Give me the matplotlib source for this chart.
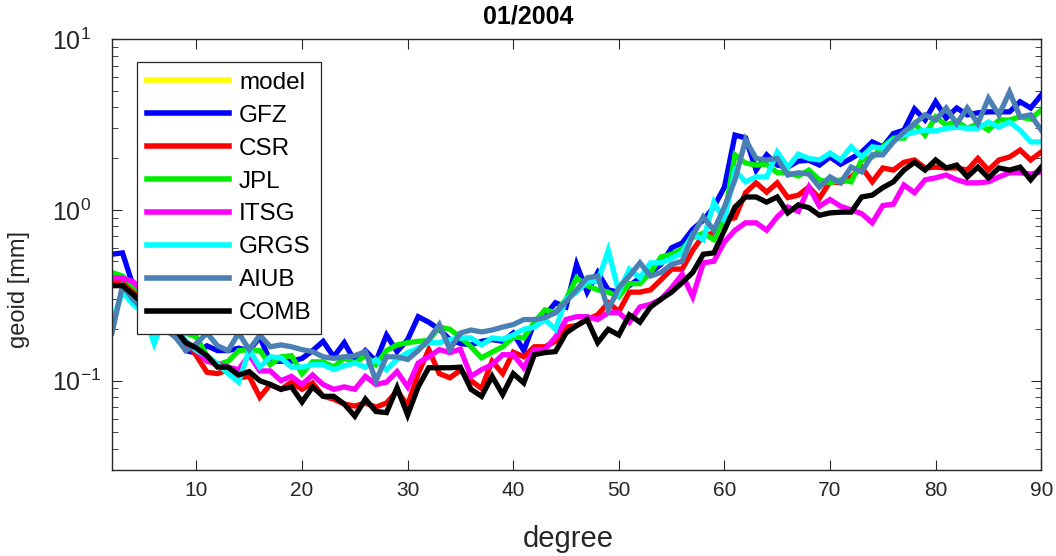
import matplotlib
matplotlib.use("Agg")
import matplotlib.pyplot as plt
import numpy as np
from matplotlib.ticker import LogLocator, FixedLocator

plt.rcParams['font.family'] = ['Liberation Sans', 'DejaVu Sans']
plt.rcParams['mathtext.fontset'] = 'custom'
plt.rcParams['mathtext.rm'] = 'Liberation Sans'

degree = list(range(2, 91))

model = []  # not visible in the reference

GFZ = [0.55, 0.56, 0.36, 0.30, 0.26, 0.22, 0.20, 0.15, 0.145, 0.16, 0.15,
       0.15, 0.155, 0.15, 0.18, 0.13, 0.13, 0.13, 0.135, 0.15, 0.17, 0.138, 0.167,
       0.13, 0.15, 0.13, 0.185, 0.148, 0.174, 0.237, 0.22, 0.2, 0.174, 0.165,
       0.162, 0.17, 0.174, 0.17, 0.19, 0.15, 0.22, 0.24, 0.286, 0.27, 0.48,
       0.33, 0.43, 0.34, 0.33, 0.36, 0.40, 0.43, 0.48, 0.6, 0.64, 0.77,
       0.87, 1.04, 1.36, 2.74, 2.64, 1.71, 2.1, 1.83, 1.78, 1.93,
       1.95, 1.83, 2.04, 1.85, 2.0, 2.18, 2.5, 2.34, 2.8, 2.93, 3.9,
       3.36, 4.3, 3.45, 3.95, 3.6, 3.7, 3.75, 3.75, 3.75, 4.3, 3.95, 4.7]

CSR = [0.38, 0.38, 0.34, 0.3, 0.26, 0.23, 0.2, 0.17, 0.14, 0.112, 0.11,
       0.116, 0.104, 0.106, 0.08, 0.095, 0.089, 0.098, 0.089, 0.097, 0.081, 0.078, 0.073,
       0.071, 0.074, 0.07, 0.074, 0.087, 0.072, 0.11, 0.152, 0.11, 0.104, 0.115,
       0.1, 0.09, 0.13, 0.11, 0.147, 0.138, 0.158, 0.158, 0.17, 0.206, 0.21,
       0.228, 0.243, 0.286, 0.254, 0.33, 0.33, 0.34, 0.39, 0.45, 0.45, 0.58,
       0.71, 0.73, 0.87, 0.9, 1.26, 1.44, 1.27, 1.44, 1.18, 1.22,
       1.36, 1.17, 1.46, 1.44, 1.56, 1.78, 1.46, 1.76, 1.71, 1.9, 1.96,
       1.76, 1.78, 1.76, 1.76, 1.71, 2.0, 1.71, 1.96, 2.04, 2.24, 1.96, 2.18]

JPL = [0.43, 0.41, 0.36, 0.32, 0.28, 0.25, 0.22, 0.19, 0.18, 0.14, 0.124,
       0.13, 0.15, 0.152, 0.15, 0.124, 0.138, 0.14, 0.11, 0.129, 0.129, 0.12, 0.136,
       0.127, 0.14, 0.124, 0.15, 0.162, 0.167, 0.17, 0.172, 0.206, 0.2, 0.18,
       0.158, 0.136, 0.147, 0.158, 0.18, 0.178, 0.22, 0.26, 0.25, 0.3, 0.4,
       0.36, 0.34, 0.33, 0.31, 0.37, 0.37, 0.43, 0.53, 0.55, 0.59, 0.69,
       0.73, 0.67, 0.91, 2.1, 1.88, 1.83, 1.85, 1.65, 1.65, 1.58,
       1.71, 1.5, 1.44, 1.5, 1.46, 1.96, 2.04, 2.34, 2.63, 2.63, 3.2,
       2.74, 3.5, 3.14, 3.3, 3.0, 3.2, 2.93, 3.36, 3.36, 3.5, 3.4, 3.84]

ITSG = [0.4, 0.4, 0.38, 0.33, 0.28, 0.24, 0.2, 0.17, 0.15, 0.13, 0.125,
        0.12, 0.116, 0.142, 0.114, 0.114, 0.1, 0.106, 0.095, 0.108, 0.095, 0.089, 0.092,
        0.089, 0.106, 0.095, 0.098, 0.113, 0.092, 0.127, 0.138, 0.152, 0.146, 0.153,
        0.106, 0.116, 0.124, 0.142, 0.142, 0.119, 0.152, 0.152, 0.18, 0.228, 0.237,
        0.237, 0.228, 0.25, 0.25, 0.22, 0.27, 0.28, 0.3, 0.35, 0.42, 0.31,
        0.49, 0.5, 0.65, 0.76, 0.84, 0.84, 0.76, 0.91, 1.04, 0.98,
        1.36, 1.05, 1.15, 1.05, 1.0, 0.95, 0.84, 1.06, 1.08, 1.4, 1.26,
        1.5, 1.54, 1.6, 1.5, 1.44, 1.44, 1.46, 1.56, 1.65, 1.65, 1.62, 1.67]

GRGS = [0.22, 0.33, 0.28, 0.25, 0.165, 0.24, 0.2, 0.17, 0.15, 0.14, 0.125,
        0.11, 0.098, 0.152, 0.12, 0.138, 0.136, 0.12, 0.12, 0.124, 0.124, 0.116, 0.122,
        0.127, 0.12, 0.133, 0.116, 0.133, 0.146, 0.155, 0.167, 0.167, 0.174, 0.178,
        0.178, 0.162, 0.178, 0.175, 0.185, 0.2, 0.206, 0.228, 0.2, 0.3, 0.33,
        0.38, 0.38, 0.58, 0.33, 0.45, 0.4, 0.49, 0.49, 0.52, 0.56, 0.72,
        0.67, 1.11, 0.87, 1.7, 1.46, 1.56, 1.56, 2.18, 1.78, 2.12,
        2.0, 1.96, 2.15, 1.96, 2.34, 2.04, 2.34, 2.3, 2.57, 2.74, 2.85,
        2.93, 2.9, 3.0, 3.05, 3.0, 3.0, 3.27, 3.05, 3.27, 2.93, 2.5, 2.5]

AIUB = [0.19, 0.36, 0.3, 0.26, 0.22, 0.2, 0.18, 0.15, 0.165, 0.19, 0.16,
        0.15, 0.19, 0.152, 0.185, 0.158, 0.162, 0.158, 0.152, 0.148, 0.138, 0.135, 0.138,
        0.14, 0.148, 0.1, 0.138, 0.138, 0.133, 0.15, 0.174, 0.213, 0.152, 0.19,
        0.198, 0.193, 0.198, 0.206, 0.213, 0.228, 0.228, 0.234, 0.25, 0.29, 0.34,
        0.4, 0.41, 0.26, 0.35, 0.41, 0.49, 0.41, 0.43, 0.48, 0.5, 0.71,
        0.91, 0.76, 1.04, 1.5, 2.57, 2.0, 1.96, 2.0, 1.6, 1.65,
        1.62, 1.36, 1.56, 1.44, 1.78, 1.67, 2.1, 2.1, 2.5, 2.86, 3.2,
        3.6, 3.36, 3.95, 3.2, 3.95, 3.2, 4.5, 3.6, 4.9, 3.5, 3.6, 2.93]

COMB = [0.36, 0.36, 0.32, 0.28, 0.25, 0.22, 0.2, 0.167, 0.155, 0.14, 0.12,
        0.12, 0.108, 0.113, 0.1, 0.095, 0.089, 0.092, 0.075, 0.092, 0.081, 0.081, 0.073,
        0.062, 0.078, 0.066, 0.065, 0.091, 0.063, 0.092, 0.119, 0.119, 0.119, 0.12,
        0.089, 0.081, 0.106, 0.083, 0.11, 0.097, 0.142, 0.146, 0.148, 0.19, 0.21,
        0.228, 0.167, 0.2, 0.185, 0.243, 0.22, 0.27, 0.3, 0.33, 0.375, 0.43,
        0.55, 0.56, 0.76, 1.04, 1.19, 1.19, 1.11, 1.19, 0.96, 1.07,
        1.03, 0.93, 0.96, 0.97, 0.97, 1.19, 1.22, 1.35, 1.46, 1.71, 1.9,
        1.71, 1.96, 1.76, 1.83, 1.56, 1.78, 1.54, 1.76, 1.71, 1.78, 1.5, 1.78]

names = ['model', 'GFZ', 'CSR', 'JPL', 'ITSG', 'GRGS', 'AIUB', 'COMB']
series = [model, GFZ, CSR, JPL, ITSG, GRGS, AIUB, COMB]
colors = ['#ffff00', '#0000ff', '#ff0000', '#00ee00', '#ff00ff', '#00ffff', '#4a80b4', '#000000']

fig = plt.figure(figsize=(10.56, 5.56), dpi=100)
ax = fig.add_axes([0.106, 0.1547, 0.880, 0.775])

for name, vals, c in zip(names, series, colors):
    ax.plot(degree[:len(vals)], vals, color=c, lw=3.8, label=name, solid_joinstyle='miter')

ax.set_yscale('log')
ax.set_xlim(2, 90)
ax.set_ylim(0.03, 10)
ax.xaxis.set_major_locator(FixedLocator([10, 20, 30, 40, 50, 60, 70, 80, 90]))
ax.yaxis.set_major_locator(FixedLocator([0.1, 1, 10]))
ax.yaxis.set_minor_locator(LogLocator(base=10, subs=np.arange(2, 10), numticks=10))

gray = '#262626'
for s in ax.spines.values():
    s.set_color(gray)
    s.set_linewidth(1.0)
ax.tick_params(axis='both', which='both', direction='in', top=True, right=True,
               colors=gray, labelcolor=gray)
ax.tick_params(axis='both', which='major', length=7)
ax.tick_params(axis='x', labelsize=15, pad=8)
ax.tick_params(axis='y', labelsize=18, pad=43)
ax.tick_params(axis='y', which='minor', length=4)
for lbl in ax.yaxis.get_majorticklabels():
    lbl.set_horizontalalignment('left')

ax.set_xlabel('degree', fontsize=21, color=gray)
ax.xaxis.set_label_coords(0.491, -0.128)
ax.set_ylabel('geoid [mm]', fontsize=17, color=gray)
ax.yaxis.set_label_coords(-0.088, 0.42)
fig.text(0.5, 0.992, '01/2004', fontsize=18, fontweight='bold', ha='center', va='top')

leg = ax.legend(loc='upper left', bbox_to_anchor=(0.027, 0.947), borderaxespad=0,
                fontsize=17.5, handlelength=3.4, handletextpad=0.4, labelspacing=0.45,
                fancybox=False, framealpha=1, edgecolor=gray, borderpad=0.4)
leg.get_frame().set_linewidth(0.9)
for line in leg.get_lines():
    line.set_linewidth(4)

fig.savefig('out.png', dpi=100)
